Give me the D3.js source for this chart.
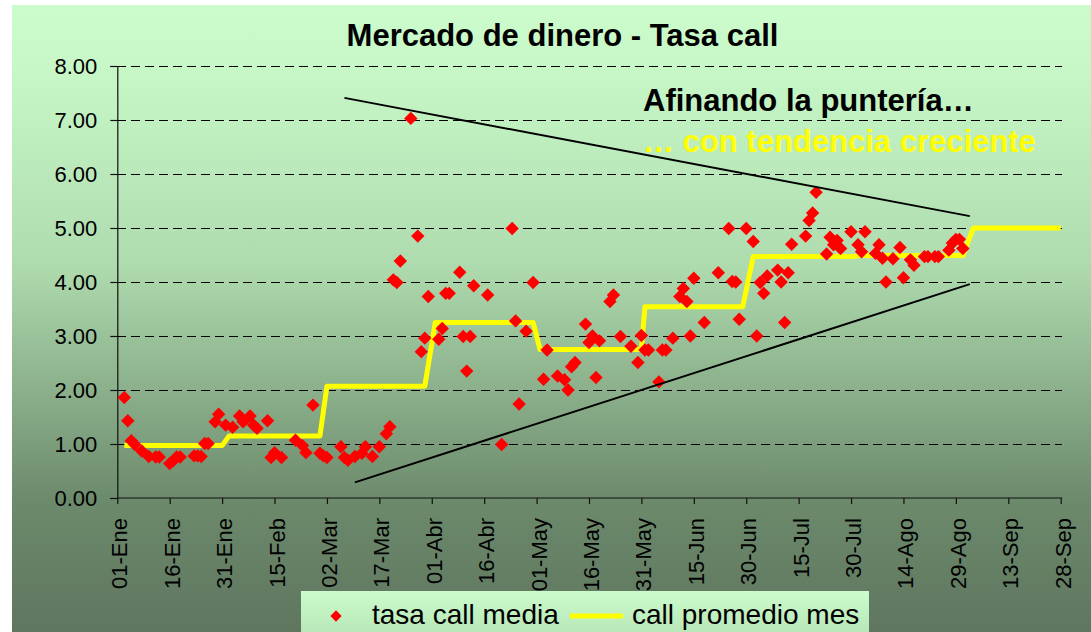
<!DOCTYPE html>
<html>
<head>
<meta charset="utf-8">
<script src="https://cdn.jsdelivr.net/npm/d3@7/dist/d3.min.js"></script>
<style>
  body { margin: 0; background: #fff; }
  svg { display: block; font-family: "Liberation Sans", Arial, sans-serif; }
</style>
</head>
<body>
<div id="chart"></div>
<script>
// tasa call media (diaria)
const fechas = [
  '2005-01-03','2005-01-04','2005-01-05','2005-01-06','2005-01-08','2005-01-10','2005-01-12','2005-01-13',
  '2005-01-16','2005-01-17','2005-01-18','2005-01-19','2005-01-23','2005-01-24','2005-01-25','2005-01-26',
  '2005-01-27','2005-01-29','2005-01-30',
  '2005-02-01','2005-02-03','2005-02-05','2005-02-06','2005-02-08','2005-02-09','2005-02-10','2005-02-13',
  '2005-02-14','2005-02-15','2005-02-17','2005-02-21','2005-02-23','2005-02-24','2005-02-26','2005-02-28',
  '2005-03-01','2005-03-02','2005-03-06','2005-03-07','2005-03-08','2005-03-10','2005-03-12','2005-03-13',
  '2005-03-15','2005-03-17','2005-03-19','2005-03-20','2005-03-21','2005-03-22','2005-03-23','2005-03-26',
  '2005-03-28','2005-03-29','2005-03-30','2005-03-31',
  '2005-04-03','2005-04-04','2005-04-05','2005-04-06','2005-04-09','2005-04-10','2005-04-11','2005-04-12',
  '2005-04-13','2005-04-17','2005-04-21','2005-04-24','2005-04-25','2005-04-26','2005-04-28','2005-04-30',
  '2005-05-03','2005-05-04','2005-05-07','2005-05-09','2005-05-10','2005-05-11','2005-05-12','2005-05-15',
  '2005-05-16','2005-05-17','2005-05-18','2005-05-19','2005-05-22','2005-05-23','2005-05-25','2005-05-28',
  '2005-05-30','2005-05-31',
  '2005-06-01','2005-06-02','2005-06-05','2005-06-06','2005-06-07','2005-06-09','2005-06-11','2005-06-12',
  '2005-06-13','2005-06-14','2005-06-15','2005-06-18','2005-06-22','2005-06-25','2005-06-26','2005-06-27',
  '2005-06-28','2005-06-30',
  '2005-07-02','2005-07-03','2005-07-04','2005-07-05','2005-07-06','2005-07-09','2005-07-10','2005-07-11',
  '2005-07-12','2005-07-13','2005-07-17','2005-07-18','2005-07-19','2005-07-20','2005-07-23','2005-07-24',
  '2005-07-25','2005-07-26','2005-07-27','2005-07-30',
  '2005-08-01','2005-08-02','2005-08-03','2005-08-06','2005-08-07','2005-08-08','2005-08-09','2005-08-11',
  '2005-08-13','2005-08-14','2005-08-16','2005-08-17','2005-08-20','2005-08-21','2005-08-23','2005-08-24',
  '2005-08-27','2005-08-28','2005-08-29','2005-08-30','2005-08-31'
];
const tasaCall = [
  1.86, 1.43, 1.06, 0.99, 0.87, 0.77, 0.76, 0.76,
  0.64, 0.69, 0.76, 0.76, 0.78, 0.78, 0.77, 1.01,
  1.01, 1.41, 1.55,
  1.35, 1.31, 1.52, 1.41, 1.52, 1.35, 1.29, 1.43,
  0.75, 0.84, 0.75, 1.07, 0.97, 0.84, 1.72, 0.83,
  0.78, 0.75, 0.95, 0.75, 0.70, 0.77, 0.83, 0.95,
  0.77, 0.95, 1.19, 1.32, 4.04, 3.99, 4.39, 7.03,
  4.85, 2.71, 2.96, 3.73,
  2.94, 3.14, 3.79, 3.79, 4.18, 2.99, 2.35, 2.99,
  3.93, 3.76, 0.99, 4.99, 3.28, 1.74, 3.09, 3.99,
  2.20, 2.74, 2.26, 2.19, 2.00, 2.43, 2.51, 3.22,
  2.88, 3.00, 2.23, 2.91, 3.64, 3.76, 2.99, 2.81,
  2.51, 3.01,
  2.74, 2.74, 2.15, 2.74, 2.74, 2.96, 3.73, 3.88,
  3.64, 3.00, 4.07, 3.25, 4.17, 4.99, 4.01, 4.00,
  3.31, 4.99,
  4.75, 3.00, 3.99, 3.79, 4.11, 4.22, 4.00, 3.25,
  4.17, 4.70, 4.85, 5.14, 5.28, 5.66, 4.52, 4.83,
  4.69, 4.77, 4.62, 4.93,
  4.69, 4.56, 4.93, 4.53, 4.69, 4.44, 4.00, 4.43,
  4.64, 4.08, 4.41, 4.31, 4.47, 4.47, 4.47, 4.47,
  4.59, 4.72, 4.79, 4.79, 4.62
];

// call promedio mes
const mesInicio = ['2005-01-03','2005-02-02','2005-03-02','2005-04-02','2005-05-02','2005-06-01','2005-07-02','2005-08-01','2005-09-03'];
const mesFin    = ['2005-01-31','2005-02-28','2005-03-30','2005-04-30','2005-05-31','2005-06-29','2005-07-31','2005-08-31','2005-09-28'];
const callPromedio = [0.97, 1.15, 2.07, 3.25, 2.75, 3.54, 4.47, 4.49, 5.00];

// lineas de tendencia
const tendSupFechas = ['2005-03-07','2005-09-02'];
const tendSupValores = [7.41, 5.22];
const tendInfFechas = ['2005-03-10','2005-09-02'];
const tendInfValores = [0.29, 3.96];

const tickFechas = ['2005-01-01','2005-01-16','2005-01-31','2005-02-15','2005-03-02','2005-03-17','2005-04-01',
  '2005-04-16','2005-05-01','2005-05-16','2005-05-31','2005-06-15','2005-06-30','2005-07-15','2005-07-30',
  '2005-08-14','2005-08-29','2005-09-13','2005-09-28'];
const tickLabels = ['01-Ene','16-Ene','31-Ene','15-Feb','02-Mar','17-Mar','01-Abr','16-Abr','01-May','16-May',
  '31-May','15-Jun','30-Jun','15-Jul','30-Jul','14-Ago','29-Ago','13-Sep','28-Sep'];
const yTicks = [0, 1, 2, 3, 4, 5, 6, 7, 8];

const width = 1091, height = 632;
const parse = d3.utcParse('%Y-%m-%d');

const svg = d3.select('#chart').append('svg')
  .attr('width', width)
  .attr('height', height);

// *** fondo degradado *** //
const defs = svg.append('defs');
const bg = defs.append('linearGradient').attr('id', 'bg').attr('x1', 0).attr('y1', 0).attr('x2', 0).attr('y2', 1);
bg.append('stop').attr('offset', '0').attr('stop-color', '#ccfccc');
bg.append('stop').attr('offset', '0.09').attr('stop-color', '#c8f8c8');
bg.append('stop').attr('offset', '0.41').attr('stop-color', '#afdcaf');
bg.append('stop').attr('offset', '0.79').attr('stop-color', '#6c8a6c');
bg.append('stop').attr('offset', '1').attr('stop-color', '#5f765f');
const lg = defs.append('linearGradient').attr('id', 'lg').attr('x1', 0).attr('y1', 0).attr('x2', 0).attr('y2', 1);
lg.append('stop').attr('offset', '0').attr('stop-color', '#ccfccc');
lg.append('stop').attr('offset', '1').attr('stop-color', '#b4e2b4');

svg.append('rect')
  .attr('x', 12).attr('y', 5)
  .attr('width', width - 12).attr('height', height - 5)
  .attr('fill', 'url(#bg)');

// *** escalas *** //
const x = d3.scaleUtc()
  .domain([parse('2005-01-01'), parse('2005-09-28')])
  .range([117.3, 1060.7]);
const y = d3.scaleLinear()
  .domain([0, 8])
  .range([498, 66]);

// grilla
svg.append('g')
  .selectAll('line')
  .data(yTicks.filter(d => d > 0))
  .join('line')
  .attr('x1', x.range()[0])
  .attr('x2', x.range()[1] + 1.5)
  .attr('y1', d => y(d) + 0.5)
  .attr('y2', d => y(d) + 0.5)
  .attr('stroke', '#000')
  .attr('stroke-width', 1)
  .attr('stroke-dasharray', '9,5')
  .attr('shape-rendering', 'crispEdges');

// ejes
const yAxis = svg.append('g')
  .attr('transform', `translate(${x.range()[0]},0)`)
  .call(d3.axisLeft(y).tickValues(yTicks).tickSize(7).tickPadding(13).tickFormat(d3.format('.2f')));
const xAxis = svg.append('g')
  .attr('transform', `translate(0,${y(0)})`)
  .call(d3.axisBottom(x).tickValues(tickFechas.map(parse)).tickSize(6).tickFormat((d, i) => tickLabels[i]));

[yAxis, xAxis].forEach(ax => {
  ax.select('.domain').attr('stroke', '#111').attr('stroke-width', 1.2);
  ax.selectAll('.tick line').attr('stroke', '#111').attr('stroke-width', 1.2);
  ax.selectAll('text').attr('fill', '#000').style('font-size', '22px')
    .style('font-family', '"Liberation Sans", Arial, sans-serif');
});
xAxis.selectAll('.domain').attr('d', `M${x.range()[0]},0H${x.range()[1] + 1.5}`);
xAxis.selectAll('text')
  .attr('transform', 'rotate(-90)')
  .attr('x', -20)
  .attr('y', 9.5)
  .attr('dy', 0)
  .attr('text-anchor', 'end');

// *** call promedio mes (escalonada) *** //
const escalones = [];
callPromedio.forEach((v, i) => {
  escalones.push([parse(mesInicio[i]), v]);
  escalones.push([parse(mesFin[i]), v]);
});
svg.append('path')
  .datum(escalones)
  .attr('fill', 'none')
  .attr('stroke', '#ffff00')
  .attr('stroke-width', 5)
  .attr('stroke-linejoin', 'round')
  .attr('d', d3.line().x(d => x(d[0])).y(d => y(d[1])));

// *** tasa call media *** //
const diamond = d3.symbol(d3.symbolSquare, 90)();
svg.append('g')
  .selectAll('path')
  .data(fechas.map((f, i) => ({ fecha: parse(f), valor: tasaCall[i] })))
  .join('path')
  .attr('d', diamond)
  .attr('transform', d => `translate(${x(d.fecha)},${y(d.valor)}) rotate(45)`)
  .attr('fill', '#ff0000');

// lineas de tendencia
[[tendSupFechas, tendSupValores], [tendInfFechas, tendInfValores]].forEach(([fs, vs]) => {
  svg.append('line')
    .attr('x1', x(parse(fs[0]))).attr('y1', y(vs[0]))
    .attr('x2', x(parse(fs[1]))).attr('y2', y(vs[1]))
    .attr('stroke', '#000')
    .attr('stroke-width', 2);
});

// titulo y anotaciones
svg.append('text')
  .attr('x', 562.5).attr('y', 46)
  .attr('text-anchor', 'middle')
  .style('font-size', '31px').style('font-weight', 'bold')
  .text('Mercado de dinero - Tasa call');
svg.append('text')
  .attr('x', 643).attr('y', 111)
  .style('font-size', '31px').style('font-weight', 'bold')
  .attr('fill', '#000')
  .text('Afinando la puntería…');
svg.append('text')
  .attr('x', 643).attr('y', 152)
  .style('font-size', '31px').style('font-weight', 'bold')
  .attr('fill', '#ffff00')
  .text('… con tendencia creciente');

// *** leyenda *** //
const legend = svg.append('g');
legend.append('rect')
  .attr('x', 301).attr('y', 591)
  .attr('width', 568).attr('height', 50)
  .attr('fill', 'url(#lg)');
legend.append('path')
  .attr('d', d3.symbol(d3.symbolSquare, 64)())
  .attr('transform', 'translate(336,616) rotate(45)')
  .attr('fill', '#ff0000');
legend.append('text')
  .attr('x', 372).attr('y', 624)
  .style('font-size', '28px')
  .text('tasa call media');
legend.append('line')
  .attr('x1', 570).attr('x2', 623)
  .attr('y1', 616).attr('y2', 616)
  .attr('stroke', '#ffff00').attr('stroke-width', 5);
legend.append('text')
  .attr('x', 632).attr('y', 624)
  .style('font-size', '28px')
  .text('call promedio mes');
</script>
</body>
</html>
